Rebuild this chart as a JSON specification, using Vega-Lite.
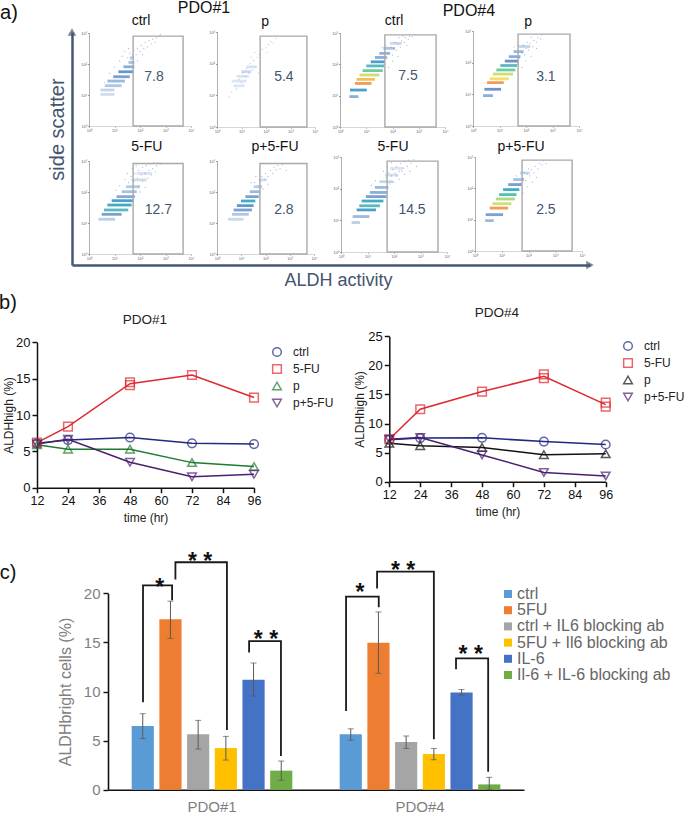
{"$schema":"https://vega.github.io/schema/vega-lite/v6.json","width":685,"height":818,"padding":0,"autosize":"none","background":"white",
"data":{"values":[{}]},
"config":{"font":"Liberation Sans","view":{"stroke":null},"axis":{"grid":false,"titleFontWeight":"normal","labelFlush":false}},
"resolve":{"scale":{"x":"independent","y":"independent","stroke":"independent","shape":"independent"},"axis":{"x":"independent","y":"independent"}},
"datasets":{
"s1":[{"y":1.02,"x":0.45,"x2":1.0,"d":0.08},{"y":1.16,"x":0.45,"x2":1.0,"d":0.12},{"y":1.3,"x":0.62,"x2":1.28,"d":0.2},{"y":1.45,"x":0.72,"x2":1.41,"d":0.25},{"y":1.59,"x":0.95,"x2":1.6,"d":0.35},{"y":1.75,"x":1.15,"x2":1.74,"d":0.42},{"y":1.91,"x":1.35,"x2":1.78,"d":0.3},{"y":2.05,"x":1.55,"x2":1.78,"d":0.22},{"y":2.2,"x":1.6,"x2":1.75,"d":0.15}],
"s2":[{"y":1.3,"x":0.7,"x2":1.1,"d":0.03},{"y":1.45,"x":0.6,"x2":1.2,"d":0.04},{"y":1.6,"x":0.8,"x2":1.3,"d":0.05},{"y":1.75,"x":1.0,"x2":1.4,"d":0.1},{"y":1.9,"x":1.2,"x2":1.6,"d":0.05}],
"s3":[{"y":0.97,"x":0.36,"x2":0.7,"d":0.3},{"y":1.18,"x":0.38,"x2":1.02,"d":0.45},{"y":1.39,"x":0.57,"x2":1.2,"d":0.95},{"y":1.52,"x":0.63,"x2":1.33,"d":0.9},{"y":1.66,"x":0.74,"x2":1.5,"d":0.8},{"y":1.8,"x":0.86,"x2":1.63,"d":0.65},{"y":1.95,"x":1.0,"x2":1.68,"d":0.55},{"y":2.08,"x":1.17,"x2":1.71,"d":0.45},{"y":2.22,"x":1.33,"x2":1.78,"d":0.3},{"y":2.35,"x":1.5,"x2":1.9,"d":0.28},{"y":2.51,"x":1.65,"x2":2.1,"d":0.2},{"y":2.67,"x":1.9,"x2":2.35,"d":0.1}],
"s4":[{"y":0.96,"x":0.38,"x2":0.75,"d":0.3},{"y":1.16,"x":0.43,"x2":1.06,"d":0.4},{"y":1.37,"x":0.53,"x2":1.16,"d":0.95},{"y":1.49,"x":0.63,"x2":1.35,"d":0.85},{"y":1.64,"x":0.75,"x2":1.51,"d":0.8},{"y":1.77,"x":0.88,"x2":1.6,"d":0.65},{"y":1.91,"x":1.03,"x2":1.66,"d":0.55},{"y":2.05,"x":1.2,"x2":1.72,"d":0.4},{"y":2.19,"x":1.35,"x2":1.79,"d":0.3},{"y":2.35,"x":1.53,"x2":1.91,"d":0.25},{"y":2.51,"x":1.72,"x2":2.16,"d":0.12}],
"s5":[{"y":1.12,"x":0.37,"x2":1.02,"d":0.15},{"y":1.28,"x":0.5,"x2":1.28,"d":0.35},{"y":1.42,"x":0.59,"x2":1.54,"d":0.55},{"y":1.58,"x":0.72,"x2":1.67,"d":0.5},{"y":1.72,"x":0.89,"x2":1.74,"d":0.45},{"y":1.85,"x":1.08,"x2":1.8,"d":0.32},{"y":2.01,"x":1.28,"x2":1.87,"d":0.22},{"y":2.17,"x":1.45,"x2":2.0,"d":0.18},{"y":2.39,"x":1.67,"x2":2.26,"d":0.08},{"y":2.6,"x":1.87,"x2":2.46,"d":0.05}],
"s6":[{"y":1.12,"x":0.45,"x2":1.1,"d":0.1},{"y":1.28,"x":0.62,"x2":1.31,"d":0.2},{"y":1.42,"x":0.69,"x2":1.44,"d":0.35},{"y":1.56,"x":0.82,"x2":1.51,"d":0.42},{"y":1.71,"x":0.99,"x2":1.58,"d":0.5},{"y":1.85,"x":1.17,"x2":1.72,"d":0.35},{"y":2.01,"x":1.35,"x2":1.79,"d":0.25},{"y":2.17,"x":1.51,"x2":1.86,"d":0.15},{"y":2.39,"x":1.72,"x2":2.06,"d":0.06}],
"s7":[{"y":0.93,"x":0.4,"x2":0.72,"d":0.15},{"y":1.12,"x":0.44,"x2":1.07,"d":0.25},{"y":1.33,"x":0.59,"x2":1.32,"d":0.45},{"y":1.46,"x":0.69,"x2":1.47,"d":0.55},{"y":1.61,"x":0.78,"x2":1.6,"d":0.5},{"y":1.75,"x":0.94,"x2":1.72,"d":0.35},{"y":1.88,"x":1.09,"x2":1.76,"d":0.3},{"y":2.04,"x":1.28,"x2":1.79,"d":0.25},{"y":2.22,"x":1.45,"x2":1.97,"d":0.12},{"y":2.43,"x":1.66,"x2":2.16,"d":0.07},{"y":2.64,"x":1.85,"x2":2.35,"d":0.04}],
"s8":[{"y":0.97,"x":0.38,"x2":0.7,"d":0.25},{"y":1.16,"x":0.4,"x2":1.05,"d":0.35},{"y":1.37,"x":0.55,"x2":1.24,"d":0.95},{"y":1.51,"x":0.65,"x2":1.36,"d":0.8},{"y":1.66,"x":0.78,"x2":1.49,"d":0.75},{"y":1.8,"x":0.9,"x2":1.55,"d":0.6},{"y":1.96,"x":1.05,"x2":1.65,"d":0.5},{"y":2.12,"x":1.24,"x2":1.74,"d":0.35},{"y":2.28,"x":1.43,"x2":1.83,"d":0.22},{"y":2.49,"x":1.68,"x2":2.05,"d":0.1}],
"d1":[{"x":1.5,"y":2.2},{"x":1.6,"y":2.35},{"x":1.7,"y":2.3},{"x":1.75,"y":2.45},{"x":1.85,"y":2.3},{"x":1.9,"y":2.5},{"x":2,"y":2.4},{"x":2.05,"y":2.6},{"x":2.15,"y":2.5},{"x":2.2,"y":2.7},{"x":2.3,"y":2.55},{"x":2.35,"y":2.75},{"x":2.45,"y":2.65},{"x":2.5,"y":2.8},{"x":2.6,"y":2.7},{"x":2.65,"y":2.85},{"x":2.75,"y":2.9},{"x":2.8,"y":2.95},{"x":1.2,"y":2.1},{"x":1.3,"y":2.25},{"x":1.4,"y":2.4},{"x":1.55,"y":2.5},{"x":1.65,"y":2.15},{"x":1,"y":1.9},{"x":0.8,"y":1.7},{"x":0.6,"y":1.4},{"x":1.9,"y":2.1},{"x":2.1,"y":2.3}],
"d2":[{"x":0.6,"y":1.1},{"x":0.7,"y":1.3},{"x":0.8,"y":1.2},{"x":0.9,"y":1.5},{"x":1,"y":1.4},{"x":1.05,"y":1.7},{"x":1.15,"y":1.6},{"x":1.2,"y":1.85},{"x":1.3,"y":1.7},{"x":1.35,"y":2},{"x":1.45,"y":1.8},{"x":1.5,"y":2.1},{"x":1.6,"y":1.9},{"x":1.65,"y":2.2},{"x":1.55,"y":2.35},{"x":1.75,"y":2.3},{"x":1.4,"y":2.2},{"x":1.85,"y":2.45},{"x":2,"y":2.5},{"x":2.1,"y":2.6},{"x":2.2,"y":2.7},{"x":2.3,"y":2.65},{"x":2.4,"y":2.8},{"x":2.05,"y":2.35},{"x":1.1,"y":1.3},{"x":0.5,"y":0.95},{"x":1.7,"y":1.7}],
"d3":[{"x":1.8,"y":2.2},{"x":1.9,"y":2.35},{"x":2,"y":2.3},{"x":2.05,"y":2.5},{"x":2.15,"y":2.45},{"x":2.2,"y":2.65},{"x":2.3,"y":2.55},{"x":2.35,"y":2.75},{"x":2.45,"y":2.7},{"x":2.5,"y":2.85},{"x":2.6,"y":2.8},{"x":2.65,"y":2.9},{"x":2.75,"y":2.88},{"x":2.85,"y":2.95},{"x":1.95,"y":2.55},{"x":2.1,"y":2.7},{"x":2.25,"y":2.85},{"x":2.4,"y":2.9},{"x":1.7,"y":2},{"x":1.85,"y":1.9},{"x":2,"y":2.1},{"x":2.2,"y":2.25},{"x":1.6,"y":2.55},{"x":1.75,"y":2.6},{"x":2.55,"y":2.6}],
"d4":[{"x":1.75,"y":2.15},{"x":1.85,"y":2.3},{"x":1.95,"y":2.25},{"x":2,"y":2.45},{"x":2.1,"y":2.4},{"x":2.15,"y":2.6},{"x":2.25,"y":2.5},{"x":2.3,"y":2.7},{"x":2.4,"y":2.65},{"x":2.45,"y":2.8},{"x":2.55,"y":2.75},{"x":2.6,"y":2.88},{"x":1.9,"y":2.55},{"x":2.05,"y":2.65},{"x":2.2,"y":2.8},{"x":1.7,"y":1.95},{"x":1.85,"y":1.85},{"x":2,"y":2.05},{"x":2.2,"y":2.2},{"x":1.55,"y":2.5},{"x":1.7,"y":2.55},{"x":2.4,"y":2.45}],
"d5":[{"x":1.55,"y":2.3},{"x":1.65,"y":2.5},{"x":1.75,"y":2.35},{"x":1.8,"y":2.6},{"x":1.9,"y":2.45},{"x":1.95,"y":2.7},{"x":2.05,"y":2.55},{"x":2.1,"y":2.8},{"x":2.2,"y":2.6},{"x":2.25,"y":2.85},{"x":2.35,"y":2.7},{"x":2.4,"y":2.9},{"x":2.5,"y":2.75},{"x":2.55,"y":2.95},{"x":2.65,"y":2.85},{"x":2.7,"y":2.95},{"x":2.8,"y":2.9},{"x":1.4,"y":2.4},{"x":1.5,"y":2.6},{"x":1.95,"y":2.2},{"x":2.1,"y":2.35},{"x":2.3,"y":2.45},{"x":2.45,"y":2.55},{"x":1.7,"y":2.75},{"x":1.85,"y":2.85},{"x":2,"y":2},{"x":2.2,"y":2.15},{"x":1.2,"y":2.2},{"x":1.05,"y":2.05},{"x":2.6,"y":2.65}],
"d6":[{"x":1.55,"y":2.3},{"x":1.7,"y":2.2},{"x":1.8,"y":2.35},{"x":1.85,"y":2.5},{"x":1.95,"y":2.4},{"x":2,"y":2.6},{"x":2.1,"y":2.5},{"x":2.2,"y":2.7},{"x":2.3,"y":2.6},{"x":2.35,"y":2.8},{"x":2.45,"y":2.72},{"x":2.5,"y":2.85},{"x":2.6,"y":2.75},{"x":2.7,"y":2.88},{"x":1.4,"y":2.3},{"x":1.6,"y":2.5},{"x":1.9,"y":2.1},{"x":2.1,"y":2.25},{"x":1.75,"y":1.95},{"x":2.85,"y":2.7}],
"d7":[{"x":1.7,"y":2.35},{"x":1.8,"y":2.5},{"x":1.9,"y":2.4},{"x":1.95,"y":2.6},{"x":2.05,"y":2.5},{"x":2.1,"y":2.7},{"x":2.2,"y":2.55},{"x":2.25,"y":2.8},{"x":2.35,"y":2.65},{"x":2.4,"y":2.85},{"x":2.5,"y":2.7},{"x":2.55,"y":2.9},{"x":2.65,"y":2.8},{"x":2.75,"y":2.92},{"x":1.6,"y":2.55},{"x":1.75,"y":2.7},{"x":1.9,"y":2.82},{"x":1.85,"y":2.15},{"x":2,"y":2.2},{"x":2.2,"y":2.3},{"x":2.4,"y":2.45},{"x":2.6,"y":2.55},{"x":1.3,"y":2.25},{"x":1.15,"y":2.1},{"x":2.85,"y":2.7},{"x":2.1,"y":2.4},{"x":2.3,"y":2.55}],
"d8":[{"x":1.7,"y":2.15},{"x":1.8,"y":2.3},{"x":1.9,"y":2.25},{"x":1.95,"y":2.45},{"x":2.05,"y":2.4},{"x":2.1,"y":2.6},{"x":2.2,"y":2.5},{"x":2.25,"y":2.7},{"x":2.35,"y":2.62},{"x":2.4,"y":2.8},{"x":2.5,"y":2.75},{"x":2.55,"y":2.88},{"x":2.65,"y":2.8},{"x":1.85,"y":2.5},{"x":2,"y":2.62},{"x":1.65,"y":1.95},{"x":1.8,"y":1.85},{"x":1.95,"y":2.05},{"x":2.15,"y":2.2},{"x":1.55,"y":2.4},{"x":2.3,"y":2.35}],
"b1":[{"t":12,"s":"ctrl","v":6.1},{"t":24,"s":"ctrl","v":6.55},{"t":48,"s":"ctrl","v":6.9},{"t":72,"s":"ctrl","v":6.1},{"t":96,"s":"ctrl","v":6.0},{"t":12,"s":"5-FU","v":6.2},{"t":24,"s":"5-FU","v":8.4},{"t":48,"s":"5-FU","v":14.5},{"t":48,"s":"5-FU","v":14.1},{"t":72,"s":"5-FU","v":15.5},{"t":96,"s":"5-FU","v":12.4},{"t":12,"s":"p","v":5.9},{"t":24,"s":"p","v":5.3},{"t":48,"s":"p","v":5.3},{"t":72,"s":"p","v":3.45},{"t":96,"s":"p","v":2.9},{"t":12,"s":"p+5-FU","v":6.0},{"t":24,"s":"p+5-FU","v":6.65},{"t":48,"s":"p+5-FU","v":3.5},{"t":72,"s":"p+5-FU","v":1.5},{"t":96,"s":"p+5-FU","v":1.85}],
"b2":[{"t":12,"s":"ctrl","v":7.2},{"t":24,"s":"ctrl","v":7.5},{"t":48,"s":"ctrl","v":7.55},{"t":72,"s":"ctrl","v":6.9},{"t":96,"s":"ctrl","v":6.4},{"t":12,"s":"5-FU","v":7.3},{"t":24,"s":"5-FU","v":12.45},{"t":48,"s":"5-FU","v":15.5},{"t":72,"s":"5-FU","v":18.45},{"t":72,"s":"5-FU","v":17.8},{"t":96,"s":"5-FU","v":13.6},{"t":96,"s":"5-FU","v":12.9},{"t":12,"s":"p","v":6.6},{"t":24,"s":"p","v":6.2},{"t":48,"s":"p","v":5.9},{"t":72,"s":"p","v":4.65},{"t":96,"s":"p","v":4.8},{"t":12,"s":"p+5-FU","v":7.3},{"t":24,"s":"p+5-FU","v":7.6},{"t":48,"s":"p+5-FU","v":4.6},{"t":72,"s":"p+5-FU","v":1.6},{"t":96,"s":"p+5-FU","v":1.0}],
"series":[{"s":"ctrl"},{"s":"5-FU"},{"s":"p"},{"s":"p+5-FU"}],
"groups":[{"g":"PDO#1"},{"g":"PDO#4"}],
"bars":[{"g":"PDO#1","c":"ctrl","v":6.49,"lo":5.2,"hi":7.74},{"g":"PDO#1","c":"5FU","v":17.35,"lo":15.4,"hi":19.2},{"g":"PDO#1","c":"ctrl + IL6 blocking ab","v":5.64,"lo":4.14,"hi":7.06},{"g":"PDO#1","c":"5FU + Il6 blocking ab","v":4.24,"lo":3.02,"hi":5.43},{"g":"PDO#1","c":"IL-6","v":11.2,"lo":9.54,"hi":12.9},{"g":"PDO#1","c":"Il-6 + IL-6 blocking ab","v":1.94,"lo":0.95,"hi":2.92},{"g":"PDO#4","c":"ctrl","v":5.64,"lo":5.03,"hi":6.2},{"g":"PDO#4","c":"5FU","v":14.97,"lo":11.85,"hi":18.1},{"g":"PDO#4","c":"ctrl + IL6 blocking ab","v":4.86,"lo":4.2,"hi":5.47},{"g":"PDO#4","c":"5FU + Il6 blocking ab","v":3.63,"lo":3.05,"hi":4.2},{"g":"PDO#4","c":"IL-6","v":9.9,"lo":9.64,"hi":10.2},{"g":"PDO#4","c":"Il-6 + IL-6 blocking ab","v":0.54,"lo":0,"hi":1.26}],
"brackets":[{"b":1,"o":1,"s":1,"v":8.9},{"b":1,"o":2,"s":1,"v":20.8},{"b":1,"o":3,"s":2.05,"v":20.8},{"b":1,"o":4,"s":2.05,"v":19.3},{"b":2,"o":1,"s":2.17,"v":21.4},{"b":2,"o":2,"s":2.17,"v":23.16},{"b":2,"o":3,"s":4.03,"v":23.16},{"b":2,"o":4,"s":4.03,"v":6.08},{"b":3,"o":1,"s":4.83,"v":13.96},{"b":3,"o":2,"s":4.83,"v":15.14},{"b":3,"o":3,"s":5.98,"v":15.14},{"b":3,"o":4,"s":5.98,"v":3.43},{"b":4,"o":1,"s":8.33,"v":8.01},{"b":4,"o":2,"s":8.33,"v":19.66},{"b":4,"o":3,"s":9.51,"v":19.66},{"b":4,"o":4,"s":9.51,"v":18.57},{"b":5,"o":1,"s":9.45,"v":20.5},{"b":5,"o":2,"s":9.45,"v":22.2},{"b":5,"o":3,"s":11.5,"v":22.2},{"b":5,"o":4,"s":11.5,"v":5.13},{"b":6,"o":1,"s":12.3,"v":12.26},{"b":6,"o":2,"s":12.3,"v":13.38},{"b":6,"o":3,"s":13.46,"v":13.38},{"b":6,"o":4,"s":13.46,"v":1.83}],
"stars":[{"t":"*","s":1.6,"v":21},{"t":"* *","s":3.06,"v":23.67},{"t":"* *","s":5.44,"v":15.75},{"t":"*","s":8.83,"v":20.5},{"t":"* *","s":10.39,"v":22.8},{"t":"* *","s":12.83,"v":14.2}]
},
"layer":[
{"mark":{"type":"point","shape":"triangle-up","filled":true,"size":75,"color":"#44586f"},"encoding":{"x":{"datum":0,"type":"quantitative","scale":{"domain":[0,1],"range":[72,590],"nice":false},"axis":{"orient":"bottom","title":"ALDH activity","titleFontSize":18,"titleColor":"#44546f","titleX":338,"titleY":6,"labels":false,"ticks":false,"domainColor":"#44586f","domainWidth":2.5,"offset":-553}},"y":{"datum":1,"type":"quantitative","scale":{"domain":[0,1],"range":[265,32],"nice":false},"axis":{"orient":"left","title":"side scatter","titleFontSize":20,"titleColor":"#44546f","titleX":-5,"titleY":129,"labels":false,"ticks":false,"domainColor":"#44586f","domainWidth":2.5,"offset":-72}}}},
{"mark":{"type":"point","shape":"triangle-right","filled":true,"size":75,"color":"#44586f"},"encoding":{"x":{"datum":1,"type":"quantitative","scale":{"domain":[0,1],"range":[72,590],"nice":false},"axis":null},"y":{"datum":0,"type":"quantitative","scale":{"domain":[0,1],"range":[265,32],"nice":false},"axis":null}}},
{"mark":{"type":"point","opacity":0},"encoding":{"x":{"datum":0,"type":"quantitative","scale":{"domain":[0,4],"range":[89,191],"nice":false},"axis":{"orient":"bottom","title":null,"values":[0,1,2,3,4],"labelExpr":"'10' + ['⁰','¹','²','³','⁴'][datum.value]","labelFontSize":4,"labelColor":"#666","domainColor":"#bbb","domainWidth":0.6,"tickColor":"#bbb","tickSize":1.5,"labelPadding":1,"offset":-692}},"y":{"datum":0,"type":"quantitative","scale":{"domain":[0,3],"range":[126,33],"nice":false},"axis":{"orient":"left","title":null,"values":[0,1,2,3],"labelExpr":"'10' + ['⁰','¹','²','³','⁴'][datum.value]","labelFontSize":4,"labelColor":"#666","domainColor":"#777","domainWidth":0.6,"tickColor":"#999","tickSize":1.5,"labelPadding":1,"offset":-89}}}},
{"mark":{"type":"point","opacity":0},"encoding":{"x":{"datum":0,"type":"quantitative","scale":{"domain":[0,4],"range":[217,315],"nice":false},"axis":{"orient":"bottom","title":null,"values":[0,1,2,3,4],"labelExpr":"'10' + ['⁰','¹','²','³','⁴'][datum.value]","labelFontSize":4,"labelColor":"#666","domainColor":"#bbb","domainWidth":0.6,"tickColor":"#bbb","tickSize":1.5,"labelPadding":1,"offset":-691}},"y":{"datum":0,"type":"quantitative","scale":{"domain":[0,3],"range":[127,32],"nice":false},"axis":{"orient":"left","title":null,"values":[0,1,2,3],"labelExpr":"'10' + ['⁰','¹','²','³','⁴'][datum.value]","labelFontSize":4,"labelColor":"#666","domainColor":"#777","domainWidth":0.6,"tickColor":"#999","tickSize":1.5,"labelPadding":1,"offset":-217}}}},
{"mark":{"type":"point","opacity":0},"encoding":{"x":{"datum":0,"type":"quantitative","scale":{"domain":[0,4],"range":[340,445],"nice":false},"axis":{"orient":"bottom","title":null,"values":[0,1,2,3,4],"labelExpr":"'10' + ['⁰','¹','²','³','⁴'][datum.value]","labelFontSize":4,"labelColor":"#666","domainColor":"#bbb","domainWidth":0.6,"tickColor":"#bbb","tickSize":1.5,"labelPadding":1,"offset":-691}},"y":{"datum":0,"type":"quantitative","scale":{"domain":[0,3],"range":[127,33],"nice":false},"axis":{"orient":"left","title":null,"values":[0,1,2,3],"labelExpr":"'10' + ['⁰','¹','²','³','⁴'][datum.value]","labelFontSize":4,"labelColor":"#666","domainColor":"#777","domainWidth":0.6,"tickColor":"#999","tickSize":1.5,"labelPadding":1,"offset":-340}}}},
{"mark":{"type":"point","opacity":0},"encoding":{"x":{"datum":0,"type":"quantitative","scale":{"domain":[0,4],"range":[473,579],"nice":false},"axis":{"orient":"bottom","title":null,"values":[0,1,2,3,4],"labelExpr":"'10' + ['⁰','¹','²','³','⁴'][datum.value]","labelFontSize":4,"labelColor":"#666","domainColor":"#bbb","domainWidth":0.6,"tickColor":"#bbb","tickSize":1.5,"labelPadding":1,"offset":-692}},"y":{"datum":0,"type":"quantitative","scale":{"domain":[0,3],"range":[126,31],"nice":false},"axis":{"orient":"left","title":null,"values":[0,1,2,3],"labelExpr":"'10' + ['⁰','¹','²','³','⁴'][datum.value]","labelFontSize":4,"labelColor":"#666","domainColor":"#777","domainWidth":0.6,"tickColor":"#999","tickSize":1.5,"labelPadding":1,"offset":-473}}}},
{"mark":{"type":"point","opacity":0},"encoding":{"x":{"datum":0,"type":"quantitative","scale":{"domain":[0,4],"range":[89,191],"nice":false},"axis":{"orient":"bottom","title":null,"values":[0,1,2,3,4],"labelExpr":"'10' + ['⁰','¹','²','³','⁴'][datum.value]","labelFontSize":4,"labelColor":"#666","domainColor":"#bbb","domainWidth":0.6,"tickColor":"#bbb","tickSize":1.5,"labelPadding":1,"offset":-564}},"y":{"datum":0,"type":"quantitative","scale":{"domain":[0,3],"range":[254,161],"nice":false},"axis":{"orient":"left","title":null,"values":[0,1,2,3],"labelExpr":"'10' + ['⁰','¹','²','³','⁴'][datum.value]","labelFontSize":4,"labelColor":"#666","domainColor":"#777","domainWidth":0.6,"tickColor":"#999","tickSize":1.5,"labelPadding":1,"offset":-89}}}},
{"mark":{"type":"point","opacity":0},"encoding":{"x":{"datum":0,"type":"quantitative","scale":{"domain":[0,4],"range":[217,314],"nice":false},"axis":{"orient":"bottom","title":null,"values":[0,1,2,3,4],"labelExpr":"'10' + ['⁰','¹','²','³','⁴'][datum.value]","labelFontSize":4,"labelColor":"#666","domainColor":"#bbb","domainWidth":0.6,"tickColor":"#bbb","tickSize":1.5,"labelPadding":1,"offset":-564}},"y":{"datum":0,"type":"quantitative","scale":{"domain":[0,3],"range":[254,161],"nice":false},"axis":{"orient":"left","title":null,"values":[0,1,2,3],"labelExpr":"'10' + ['⁰','¹','²','³','⁴'][datum.value]","labelFontSize":4,"labelColor":"#666","domainColor":"#777","domainWidth":0.6,"tickColor":"#999","tickSize":1.5,"labelPadding":1,"offset":-217}}}},
{"mark":{"type":"point","opacity":0},"encoding":{"x":{"datum":0,"type":"quantitative","scale":{"domain":[0,4],"range":[341,447],"nice":false},"axis":{"orient":"bottom","title":null,"values":[0,1,2,3,4],"labelExpr":"'10' + ['⁰','¹','²','³','⁴'][datum.value]","labelFontSize":4,"labelColor":"#666","domainColor":"#bbb","domainWidth":0.6,"tickColor":"#bbb","tickSize":1.5,"labelPadding":1,"offset":-566}},"y":{"datum":0,"type":"quantitative","scale":{"domain":[0,3],"range":[252,157],"nice":false},"axis":{"orient":"left","title":null,"values":[0,1,2,3],"labelExpr":"'10' + ['⁰','¹','²','³','⁴'][datum.value]","labelFontSize":4,"labelColor":"#666","domainColor":"#777","domainWidth":0.6,"tickColor":"#999","tickSize":1.5,"labelPadding":1,"offset":-341}}}},
{"mark":{"type":"point","opacity":0},"encoding":{"x":{"datum":0,"type":"quantitative","scale":{"domain":[0,4],"range":[475,582],"nice":false},"axis":{"orient":"bottom","title":null,"values":[0,1,2,3,4],"labelExpr":"'10' + ['⁰','¹','²','³','⁴'][datum.value]","labelFontSize":4,"labelColor":"#666","domainColor":"#bbb","domainWidth":0.6,"tickColor":"#bbb","tickSize":1.5,"labelPadding":1,"offset":-567}},"y":{"datum":0,"type":"quantitative","scale":{"domain":[0,3],"range":[251,157],"nice":false},"axis":{"orient":"left","title":null,"values":[0,1,2,3],"labelExpr":"'10' + ['⁰','¹','²','³','⁴'][datum.value]","labelFontSize":4,"labelColor":"#666","domainColor":"#777","domainWidth":0.6,"tickColor":"#999","tickSize":1.5,"labelPadding":1,"offset":-475}}}},
{"mark":{"type":"point","opacity":0},"encoding":{"x":{"datum":12,"type":"quantitative","scale":{"domain":[12,96],"range":[37,254],"nice":false},"axis":{"orient":"bottom","title":"time (hr)","titleFontSize":12,"titleColor":"#222","titlePadding":5,"values":[12,24,36,48,60,72,84,96],"labelFontSize":12.5,"labelColor":"#111","domainColor":"#111","domainWidth":1.5,"tickColor":"#111","tickWidth":1.5,"tickSize":5,"labelPadding":2,"offset":-330.3}},"y":{"datum":0,"type":"quantitative","scale":{"domain":[0,20],"range":[487.7,342.3],"nice":false},"axis":{"orient":"left","title":"ALDHhigh (%)","titleFontSize":12,"titleColor":"#222","titlePadding":0,"values":[0,5,10,15,20],"labelFontSize":13,"labelColor":"#111","domainColor":"#111","domainWidth":1.5,"tickColor":"#111","tickWidth":1.5,"tickSize":5,"labelPadding":2,"offset":-37}}}},
{"mark":{"type":"point","opacity":0},"encoding":{"x":{"datum":12,"type":"quantitative","scale":{"domain":[12,96],"range":[389.3,605.7],"nice":false},"axis":{"orient":"bottom","title":"time (hr)","titleFontSize":12,"titleColor":"#222","titlePadding":5,"values":[12,24,36,48,60,72,84,96],"labelFontSize":12.5,"labelColor":"#111","domainColor":"#111","domainWidth":1.5,"tickColor":"#111","tickWidth":1.5,"tickSize":5,"labelPadding":2,"offset":-336.3}},"y":{"datum":0,"type":"quantitative","scale":{"domain":[0,25],"range":[481.7,336.3],"nice":false},"axis":{"orient":"left","title":"ALDHhigh (%)","titleFontSize":12,"titleColor":"#222","titlePadding":1,"values":[0,5,10,15,20,25],"labelFontSize":13,"labelColor":"#111","domainColor":"#111","domainWidth":1.5,"tickColor":"#111","tickWidth":1.5,"tickSize":5,"labelPadding":2,"offset":-389.3}}}},
{"data":{"name":"groups"},"mark":{"type":"point","opacity":0},"encoding":{"x":{"field":"g","type":"nominal","scale":{"type":"band","domain":["PDO#1","PDO#4"],"range":[108,524],"paddingInner":0,"paddingOuter":0},"axis":{"orient":"bottom","title":null,"labelAngle":0,"ticks":false,"labelFontSize":15,"labelColor":"#7f7f7f","domainColor":"#111","domainWidth":1.6,"labelPadding":10,"offset":-28.3}},"y":{"datum":0,"type":"quantitative","scale":{"domain":[0,20],"range":[789.7,593.3],"nice":false},"axis":{"orient":"left","title":"ALDHbright cells (%)","titleFontSize":16,"titleColor":"#808080","titlePadding":10,"values":[0,5,10,15,20],"labelFontSize":15,"labelColor":"#7f7f7f","domainColor":"#111","domainWidth":1.6,"tickColor":"#111","tickWidth":1.4,"tickSize":5,"labelPadding":3,"offset":-108}}}},
{"layer":[
 {"data":{"name":"s1"},"mark":{"type":"rule","strokeWidth":2.8,"opacity":0.75},"encoding":{"x":{"field":"x","type":"quantitative","scale":{"domain":[0,4],"range":[89,191],"nice":false},"axis":null},"x2":{"field":"x2"},"y":{"field":"y","type":"quantitative","scale":{"domain":[0,3],"range":[126,33],"nice":false},"axis":null},"color":{"field":"d","type":"quantitative","scale":{"domain":[0,0.2,0.4,0.55,0.7,0.85,1],"range":["#dfe7f2","#8fb4d8","#3d6fb8","#2a9fa8","#6cc46a","#f0d438","#e8432e"]},"legend":null}}},
 {"data":{"name":"d1"},"mark":{"type":"point","filled":true,"size":1.6,"opacity":0.5,"color":"#5a78b8"},"encoding":{"x":{"field":"x","type":"quantitative","axis":null},"y":{"field":"y","type":"quantitative","axis":null}}},
 {"mark":{"type":"rect","fillOpacity":0,"stroke":"#a9a9a9","strokeWidth":1.4},"encoding":{"x":{"datum":1.73,"type":"quantitative","axis":null},"x2":{"datum":3.69},"y":{"datum":0,"type":"quantitative","axis":null},"y2":{"datum":2.9}}},
 {"mark":{"type":"text","text":"7.8","fontSize":14,"color":"#44546f"},"encoding":{"x":{"datum":2.55,"type":"quantitative","axis":null},"y":{"datum":1.58,"type":"quantitative","axis":null}}},
 {"mark":{"type":"text","text":"ctrl","fontSize":14,"color":"#111"},"encoding":{"x":{"datum":2.04,"type":"quantitative","axis":null},"y":{"datum":3.39,"type":"quantitative","axis":null}}},
 {"mark":{"type":"text","text":"PDO#1","fontSize":16,"color":"#111"},"encoding":{"x":{"datum":4.51,"type":"quantitative","axis":null},"y":{"datum":3.81,"type":"quantitative","axis":null}}},
 {"mark":{"type":"text","text":"a)","fontSize":20,"color":"#111"},"encoding":{"x":{"datum":-3.14,"type":"quantitative","axis":null},"y":{"datum":3.65,"type":"quantitative","axis":null}}}
]},
{"layer":[
 {"data":{"name":"s2"},"mark":{"type":"rule","strokeWidth":2.8,"opacity":0.75},"encoding":{"x":{"field":"x","type":"quantitative","scale":{"domain":[0,4],"range":[217,315],"nice":false},"axis":null},"x2":{"field":"x2"},"y":{"field":"y","type":"quantitative","scale":{"domain":[0,3],"range":[127,32],"nice":false},"axis":null},"color":{"field":"d","type":"quantitative","legend":null}}},
 {"data":{"name":"d2"},"mark":{"type":"point","filled":true,"size":1.6,"opacity":0.4,"color":"#5a78b8"},"encoding":{"x":{"field":"x","type":"quantitative","axis":null},"y":{"field":"y","type":"quantitative","axis":null}}},
 {"mark":{"type":"rect","fillOpacity":0,"stroke":"#a9a9a9","strokeWidth":1.4},"encoding":{"x":{"datum":1.76,"type":"quantitative","axis":null},"x2":{"datum":3.67},"y":{"datum":0,"type":"quantitative","axis":null},"y2":{"datum":2.87}}},
 {"mark":{"type":"text","text":"5.4","fontSize":14,"color":"#44546f"},"encoding":{"x":{"datum":2.73,"type":"quantitative","axis":null},"y":{"datum":1.58,"type":"quantitative","axis":null}}},
 {"mark":{"type":"text","text":"p","fontSize":14,"color":"#111"},"encoding":{"x":{"datum":1.96,"type":"quantitative","axis":null},"y":{"datum":3.32,"type":"quantitative","axis":null}}}
]},
{"layer":[
 {"data":{"name":"s3"},"mark":{"type":"rule","strokeWidth":2.8,"opacity":0.75},"encoding":{"x":{"field":"x","type":"quantitative","scale":{"domain":[0,4],"range":[340,445],"nice":false},"axis":null},"x2":{"field":"x2"},"y":{"field":"y","type":"quantitative","scale":{"domain":[0,3],"range":[127,33],"nice":false},"axis":null},"color":{"field":"d","type":"quantitative","legend":null}}},
 {"data":{"name":"d3"},"mark":{"type":"point","filled":true,"size":1.6,"opacity":0.5,"color":"#5a78b8"},"encoding":{"x":{"field":"x","type":"quantitative","axis":null},"y":{"field":"y","type":"quantitative","axis":null}}},
 {"mark":{"type":"rect","fillOpacity":0,"stroke":"#a9a9a9","strokeWidth":1.4},"encoding":{"x":{"datum":1.71,"type":"quantitative","axis":null},"x2":{"datum":3.66},"y":{"datum":0,"type":"quantitative","axis":null},"y2":{"datum":2.94}}},
 {"mark":{"type":"text","text":"7.5","fontSize":14,"color":"#44546f"},"encoding":{"x":{"datum":2.59,"type":"quantitative","axis":null},"y":{"datum":1.63,"type":"quantitative","axis":null}}},
 {"mark":{"type":"text","text":"ctrl","fontSize":14,"color":"#111"},"encoding":{"x":{"datum":2.06,"type":"quantitative","axis":null},"y":{"datum":3.38,"type":"quantitative","axis":null}}},
 {"mark":{"type":"text","text":"PDO#4","fontSize":16,"color":"#111"},"encoding":{"x":{"datum":4.91,"type":"quantitative","axis":null},"y":{"datum":3.7,"type":"quantitative","axis":null}}}
]},
{"layer":[
 {"data":{"name":"s4"},"mark":{"type":"rule","strokeWidth":2.8,"opacity":0.75},"encoding":{"x":{"field":"x","type":"quantitative","scale":{"domain":[0,4],"range":[473,579],"nice":false},"axis":null},"x2":{"field":"x2"},"y":{"field":"y","type":"quantitative","scale":{"domain":[0,3],"range":[126,31],"nice":false},"axis":null},"color":{"field":"d","type":"quantitative","legend":null}}},
 {"data":{"name":"d4"},"mark":{"type":"point","filled":true,"size":1.6,"opacity":0.5,"color":"#5a78b8"},"encoding":{"x":{"field":"x","type":"quantitative","axis":null},"y":{"field":"y","type":"quantitative","axis":null}}},
 {"mark":{"type":"rect","fillOpacity":0,"stroke":"#a9a9a9","strokeWidth":1.4},"encoding":{"x":{"datum":1.7,"type":"quantitative","axis":null},"x2":{"datum":3.66},"y":{"datum":0,"type":"quantitative","axis":null},"y2":{"datum":2.9}}},
 {"mark":{"type":"text","text":"3.1","fontSize":14,"color":"#44546f"},"encoding":{"x":{"datum":2.75,"type":"quantitative","axis":null},"y":{"datum":1.55,"type":"quantitative","axis":null}}},
 {"mark":{"type":"text","text":"p","fontSize":14,"color":"#111"},"encoding":{"x":{"datum":2.08,"type":"quantitative","axis":null},"y":{"datum":3.28,"type":"quantitative","axis":null}}}
]},
{"layer":[
 {"data":{"name":"s5"},"mark":{"type":"rule","strokeWidth":2.8,"opacity":0.75},"encoding":{"x":{"field":"x","type":"quantitative","scale":{"domain":[0,4],"range":[89,191],"nice":false},"axis":null},"x2":{"field":"x2"},"y":{"field":"y","type":"quantitative","scale":{"domain":[0,3],"range":[254,161],"nice":false},"axis":null},"color":{"field":"d","type":"quantitative","legend":null}}},
 {"data":{"name":"d5"},"mark":{"type":"point","filled":true,"size":1.6,"opacity":0.5,"color":"#5a78b8"},"encoding":{"x":{"field":"x","type":"quantitative","axis":null},"y":{"field":"y","type":"quantitative","axis":null}}},
 {"mark":{"type":"rect","fillOpacity":0,"stroke":"#a9a9a9","strokeWidth":1.4},"encoding":{"x":{"datum":1.73,"type":"quantitative","axis":null},"x2":{"datum":3.69},"y":{"datum":0,"type":"quantitative","axis":null},"y2":{"datum":2.92}}},
 {"mark":{"type":"text","text":"12.7","fontSize":14,"color":"#44546f"},"encoding":{"x":{"datum":2.72,"type":"quantitative","axis":null},"y":{"datum":1.42,"type":"quantitative","axis":null}}},
 {"mark":{"type":"text","text":"5-FU","fontSize":14,"color":"#111"},"encoding":{"x":{"datum":2.27,"type":"quantitative","axis":null},"y":{"datum":3.45,"type":"quantitative","axis":null}}}
]},
{"layer":[
 {"data":{"name":"s6"},"mark":{"type":"rule","strokeWidth":2.8,"opacity":0.75},"encoding":{"x":{"field":"x","type":"quantitative","scale":{"domain":[0,4],"range":[217,314],"nice":false},"axis":null},"x2":{"field":"x2"},"y":{"field":"y","type":"quantitative","scale":{"domain":[0,3],"range":[254,161],"nice":false},"axis":null},"color":{"field":"d","type":"quantitative","legend":null}}},
 {"data":{"name":"d6"},"mark":{"type":"point","filled":true,"size":1.6,"opacity":0.5,"color":"#5a78b8"},"encoding":{"x":{"field":"x","type":"quantitative","axis":null},"y":{"field":"y","type":"quantitative","axis":null}}},
 {"mark":{"type":"rect","fillOpacity":0,"stroke":"#a9a9a9","strokeWidth":1.4},"encoding":{"x":{"datum":1.77,"type":"quantitative","axis":null},"x2":{"datum":3.71},"y":{"datum":0,"type":"quantitative","axis":null},"y2":{"datum":2.92}}},
 {"mark":{"type":"text","text":"2.8","fontSize":14,"color":"#44546f"},"encoding":{"x":{"datum":2.76,"type":"quantitative","axis":null},"y":{"datum":1.42,"type":"quantitative","axis":null}}},
 {"mark":{"type":"text","text":"p+5-FU","fontSize":14,"color":"#111"},"encoding":{"x":{"datum":2.39,"type":"quantitative","axis":null},"y":{"datum":3.45,"type":"quantitative","axis":null}}}
]},
{"layer":[
 {"data":{"name":"s7"},"mark":{"type":"rule","strokeWidth":2.8,"opacity":0.75},"encoding":{"x":{"field":"x","type":"quantitative","scale":{"domain":[0,4],"range":[341,447],"nice":false},"axis":null},"x2":{"field":"x2"},"y":{"field":"y","type":"quantitative","scale":{"domain":[0,3],"range":[252,157],"nice":false},"axis":null},"color":{"field":"d","type":"quantitative","legend":null}}},
 {"data":{"name":"d7"},"mark":{"type":"point","filled":true,"size":1.6,"opacity":0.5,"color":"#5a78b8"},"encoding":{"x":{"field":"x","type":"quantitative","axis":null},"y":{"field":"y","type":"quantitative","axis":null}}},
 {"mark":{"type":"rect","fillOpacity":0,"stroke":"#a9a9a9","strokeWidth":1.4},"encoding":{"x":{"datum":1.74,"type":"quantitative","axis":null},"x2":{"datum":3.66},"y":{"datum":0,"type":"quantitative","axis":null},"y2":{"datum":2.87}}},
 {"mark":{"type":"text","text":"14.5","fontSize":14,"color":"#44546f"},"encoding":{"x":{"datum":2.68,"type":"quantitative","axis":null},"y":{"datum":1.33,"type":"quantitative","axis":null}}},
 {"mark":{"type":"text","text":"5-FU","fontSize":14,"color":"#111"},"encoding":{"x":{"datum":1.96,"type":"quantitative","axis":null},"y":{"datum":3.32,"type":"quantitative","axis":null}}}
]},
{"layer":[
 {"data":{"name":"s8"},"mark":{"type":"rule","strokeWidth":2.8,"opacity":0.75},"encoding":{"x":{"field":"x","type":"quantitative","scale":{"domain":[0,4],"range":[475,582],"nice":false},"axis":null},"x2":{"field":"x2"},"y":{"field":"y","type":"quantitative","scale":{"domain":[0,3],"range":[251,157],"nice":false},"axis":null},"color":{"field":"d","type":"quantitative","legend":null}}},
 {"data":{"name":"d8"},"mark":{"type":"point","filled":true,"size":1.6,"opacity":0.5,"color":"#5a78b8"},"encoding":{"x":{"field":"x","type":"quantitative","axis":null},"y":{"field":"y","type":"quantitative","axis":null}}},
 {"mark":{"type":"rect","fillOpacity":0,"stroke":"#a9a9a9","strokeWidth":1.4},"encoding":{"x":{"datum":1.76,"type":"quantitative","axis":null},"x2":{"datum":3.63},"y":{"datum":0,"type":"quantitative","axis":null},"y2":{"datum":2.9}}},
 {"mark":{"type":"text","text":"2.5","fontSize":14,"color":"#44546f"},"encoding":{"x":{"datum":2.65,"type":"quantitative","axis":null},"y":{"datum":1.31,"type":"quantitative","axis":null}}},
 {"mark":{"type":"text","text":"p+5-FU","fontSize":14,"color":"#111"},"encoding":{"x":{"datum":1.72,"type":"quantitative","axis":null},"y":{"datum":3.32,"type":"quantitative","axis":null}}}
]},
{"layer":[
 {"data":{"name":"b1"},"mark":{"type":"line","strokeWidth":1.5},"encoding":{"x":{"field":"t","type":"quantitative","scale":{"domain":[12,96],"range":[37,254],"nice":false},"axis":null},"y":{"aggregate":"mean","field":"v","type":"quantitative","scale":{"domain":[0,20],"range":[487.7,342.3],"nice":false},"axis":null},"stroke":{"field":"s","type":"nominal","scale":{"domain":["ctrl","5-FU","p","p+5-FU"],"range":["#1f2a80","#e0282e","#1e7a2e","#4a2070"]},"legend":null}}},
 {"data":{"name":"b1"},"mark":{"type":"point","filled":false,"strokeWidth":1.5,"size":75},"encoding":{"x":{"field":"t","type":"quantitative","axis":null},"y":{"field":"v","type":"quantitative","axis":null},"stroke":{"field":"s","type":"nominal","legend":null},"shape":{"field":"s","type":"nominal","scale":{"domain":["ctrl","5-FU","p","p+5-FU"],"range":["circle","square","triangle-up","triangle-down"]},"legend":null}}},
 {"mark":{"type":"text","text":"PDO#1","fontSize":13.5,"color":"#222"},"encoding":{"x":{"datum":53.8,"type":"quantitative","axis":null},"y":{"datum":23.07,"type":"quantitative","axis":null}}},
 {"mark":{"type":"text","text":"b)","fontSize":20,"color":"#111"},"encoding":{"x":{"datum":0.77,"type":"quantitative","axis":null},"y":{"datum":25.4,"type":"quantitative","axis":null}}}
]},
{"data":{"name":"series"},"layer":[
 {"mark":{"type":"point","filled":false,"strokeWidth":1.5,"size":75},"encoding":{"x":{"datum":0,"type":"quantitative","scale":{"domain":[0,1],"range":[277,293],"nice":false},"axis":null},"y":{"field":"s","type":"nominal","sort":null,"scale":{"type":"point","domain":["ctrl","5-FU","p","p+5-FU"],"range":[352,403],"padding":0},"axis":null},"stroke":{"field":"s","type":"nominal","scale":{"domain":["ctrl","5-FU","p","p+5-FU"],"range":["#1f2a80","#e0282e","#1e7a2e","#4a2070"]},"legend":null},"shape":{"field":"s","type":"nominal","scale":{"domain":["ctrl","5-FU","p","p+5-FU"],"range":["circle","square","triangle-up","triangle-down"]},"legend":null}}},
 {"mark":{"type":"text","align":"left","fontSize":12,"color":"#222"},"encoding":{"x":{"datum":1,"type":"quantitative","axis":null},"y":{"field":"s","type":"nominal","axis":null},"text":{"field":"s"}}}
]},
{"layer":[
 {"data":{"name":"b2"},"mark":{"type":"line","strokeWidth":1.5},"encoding":{"x":{"field":"t","type":"quantitative","scale":{"domain":[12,96],"range":[389.3,605.7],"nice":false},"axis":null},"y":{"aggregate":"mean","field":"v","type":"quantitative","scale":{"domain":[0,25],"range":[481.7,336.3],"nice":false},"axis":null},"stroke":{"field":"s","type":"nominal","scale":{"domain":["ctrl","5-FU","p","p+5-FU"],"range":["#1f2a80","#e0282e","#111111","#4a2070"]},"legend":null}}},
 {"data":{"name":"b2"},"mark":{"type":"point","filled":false,"strokeWidth":1.5,"size":75},"encoding":{"x":{"field":"t","type":"quantitative","axis":null},"y":{"field":"v","type":"quantitative","axis":null},"stroke":{"field":"s","type":"nominal","legend":null},"shape":{"field":"s","type":"nominal","scale":{"domain":["ctrl","5-FU","p","p+5-FU"],"range":["circle","square","triangle-up","triangle-down"]},"legend":null}}},
 {"mark":{"type":"text","text":"PDO#4","fontSize":13.5,"color":"#222"},"encoding":{"x":{"datum":53.8,"type":"quantitative","axis":null},"y":{"datum":29,"type":"quantitative","axis":null}}}
]},
{"data":{"name":"series"},"layer":[
 {"mark":{"type":"point","filled":false,"strokeWidth":1.5,"size":75},"encoding":{"x":{"datum":0,"type":"quantitative","scale":{"domain":[0,1],"range":[628,644],"nice":false},"axis":null},"y":{"field":"s","type":"nominal","sort":null,"scale":{"type":"point","domain":["ctrl","5-FU","p","p+5-FU"],"range":[346,397],"padding":0},"axis":null},"stroke":{"field":"s","type":"nominal","scale":{"domain":["ctrl","5-FU","p","p+5-FU"],"range":["#1f2a80","#e0282e","#111111","#4a2070"]},"legend":null},"shape":{"field":"s","type":"nominal","scale":{"domain":["ctrl","5-FU","p","p+5-FU"],"range":["circle","square","triangle-up","triangle-down"]},"legend":null}}},
 {"mark":{"type":"text","align":"left","fontSize":12,"color":"#222"},"encoding":{"x":{"datum":1,"type":"quantitative","axis":null},"y":{"field":"s","type":"nominal","axis":null},"text":{"field":"s"}}}
]},
{"data":{"name":"bars"},"layer":[
 {"mark":{"type":"bar"},"encoding":{"x":{"field":"g","type":"nominal","scale":{"domain":["PDO#1","PDO#4"],"range":[108,524],"paddingInner":0,"paddingOuter":0},"axis":null},"xOffset":{"field":"c","type":"nominal","scale":{"domain":["ctrl","5FU","ctrl + IL6 blocking ab","5FU + Il6 blocking ab","IL-6","Il-6 + IL-6 blocking ab"],"paddingInner":0.2,"paddingOuter":0.855}},"y":{"field":"v","type":"quantitative","scale":{"domain":[0,20],"range":[789.7,593.3],"nice":false},"axis":null},"fill":{"field":"c","type":"nominal","scale":{"domain":["ctrl","5FU","ctrl + IL6 blocking ab","5FU + Il6 blocking ab","IL-6","Il-6 + IL-6 blocking ab"],"range":["#5b9bd5","#ed7d31","#a5a5a5","#ffc000","#4472c4","#70ad47"]},"legend":{"title":null,"orient":"none","legendX":500,"legendY":586,"symbolType":"square","symbolSize":64,"symbolStrokeWidth":0,"labelFontSize":16,"labelColor":"#666","labelOffset":1,"rowPadding":0.2}}}},
 {"mark":{"type":"rule","color":"#595959","strokeWidth":1},"encoding":{"x":{"field":"g","type":"nominal","axis":null},"xOffset":{"field":"c","type":"nominal"},"y":{"field":"lo","type":"quantitative","axis":null},"y2":{"field":"hi"}}},
 {"mark":{"type":"tick","color":"#595959","thickness":1,"size":6},"encoding":{"x":{"field":"g","type":"nominal","axis":null},"xOffset":{"field":"c","type":"nominal"},"y":{"field":"lo","type":"quantitative","axis":null}}},
 {"mark":{"type":"tick","color":"#595959","thickness":1,"size":6},"encoding":{"x":{"field":"g","type":"nominal","axis":null},"xOffset":{"field":"c","type":"nominal"},"y":{"field":"hi","type":"quantitative","axis":null}}}
]},
{"layer":[
 {"data":{"name":"brackets"},"mark":{"type":"line","color":"#1a1a1a","strokeWidth":1.8},"encoding":{"x":{"field":"s","type":"quantitative","scale":{"domain":[-0.264,14.754],"range":[108,524],"nice":false},"axis":null},"y":{"field":"v","type":"quantitative","scale":{"domain":[0,20],"range":[789.7,593.3],"nice":false},"axis":null},"detail":{"field":"b"},"order":{"field":"o"}}},
 {"data":{"name":"stars"},"mark":{"type":"text","fontWeight":"bold","fontSize":23,"color":"#111","baseline":"middle","dy":5},"encoding":{"x":{"field":"s","type":"quantitative","axis":null},"y":{"field":"v","type":"quantitative","axis":null},"text":{"field":"t"}}},
 {"mark":{"type":"text","text":"c)","fontSize":20,"color":"#111"},"encoding":{"x":{"datum":-3.87,"type":"quantitative","axis":null},"y":{"datum":22.07,"type":"quantitative","axis":null}}}
]}
]}
